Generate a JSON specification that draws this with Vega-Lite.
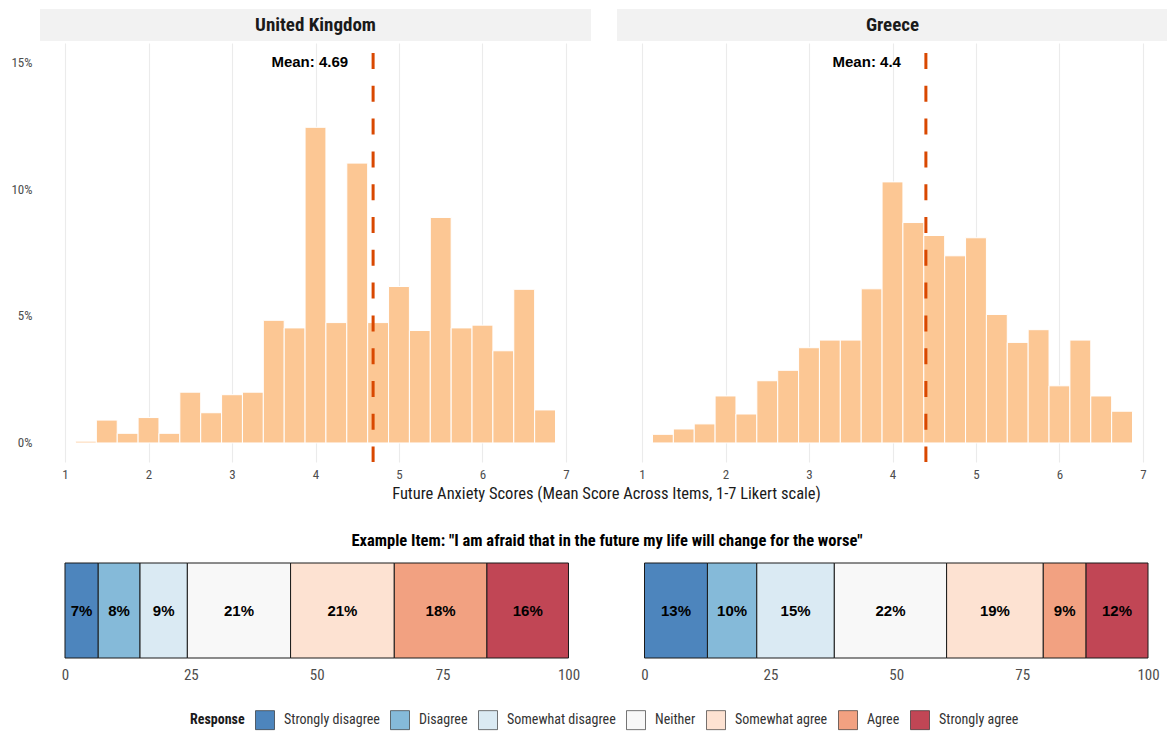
{
  "$schema": "https://vega.github.io/schema/vega-lite/v6.json",
  "padding": {"left": 10, "top": 9, "right": 0, "bottom": 0},
  "background": "white",
  "config": {
    "font": "Roboto Condensed, Liberation Sans Narrow, Arial Narrow, Roboto, sans-serif",
    "view": {"stroke": null},
    "axis": {"labelFont": "Roboto Condensed, Liberation Sans Narrow, Arial Narrow, Roboto, sans-serif"},
    "legend": {"labelFont": "Roboto Condensed, Liberation Sans Narrow, Arial Narrow, Roboto, sans-serif", "titleFont": "Roboto Condensed, Liberation Sans Narrow, Arial Narrow, Roboto, sans-serif"},
    "title": {"font": "Roboto Condensed, Liberation Sans Narrow, Arial Narrow, Roboto, sans-serif"}
  },
  "datasets": {
    "hist": [
      {"country": "United Kingdom", "bin_start": 1.125, "bin_end": 1.375, "pct": 0.07},
      {"country": "United Kingdom", "bin_start": 1.375, "bin_end": 1.625, "pct": 0.9},
      {"country": "United Kingdom", "bin_start": 1.625, "bin_end": 1.875, "pct": 0.38},
      {"country": "United Kingdom", "bin_start": 1.875, "bin_end": 2.125, "pct": 1.0},
      {"country": "United Kingdom", "bin_start": 2.125, "bin_end": 2.375, "pct": 0.38},
      {"country": "United Kingdom", "bin_start": 2.375, "bin_end": 2.625, "pct": 2.0},
      {"country": "United Kingdom", "bin_start": 2.625, "bin_end": 2.875, "pct": 1.19},
      {"country": "United Kingdom", "bin_start": 2.875, "bin_end": 3.125, "pct": 1.9},
      {"country": "United Kingdom", "bin_start": 3.125, "bin_end": 3.375, "pct": 2.0},
      {"country": "United Kingdom", "bin_start": 3.375, "bin_end": 3.625, "pct": 4.83},
      {"country": "United Kingdom", "bin_start": 3.625, "bin_end": 3.875, "pct": 4.53},
      {"country": "United Kingdom", "bin_start": 3.875, "bin_end": 4.125, "pct": 12.43},
      {"country": "United Kingdom", "bin_start": 4.125, "bin_end": 4.375, "pct": 4.74},
      {"country": "United Kingdom", "bin_start": 4.375, "bin_end": 4.625, "pct": 11.02},
      {"country": "United Kingdom", "bin_start": 4.625, "bin_end": 4.875, "pct": 4.74},
      {"country": "United Kingdom", "bin_start": 4.875, "bin_end": 5.125, "pct": 6.16},
      {"country": "United Kingdom", "bin_start": 5.125, "bin_end": 5.375, "pct": 4.43},
      {"country": "United Kingdom", "bin_start": 5.375, "bin_end": 5.625, "pct": 8.88},
      {"country": "United Kingdom", "bin_start": 5.625, "bin_end": 5.875, "pct": 4.53},
      {"country": "United Kingdom", "bin_start": 5.875, "bin_end": 6.125, "pct": 4.64},
      {"country": "United Kingdom", "bin_start": 6.125, "bin_end": 6.375, "pct": 3.63},
      {"country": "United Kingdom", "bin_start": 6.375, "bin_end": 6.625, "pct": 6.05},
      {"country": "United Kingdom", "bin_start": 6.625, "bin_end": 6.875, "pct": 1.3},
      {"country": "Greece", "bin_start": 1.125, "bin_end": 1.375, "pct": 0.34},
      {"country": "Greece", "bin_start": 1.375, "bin_end": 1.625, "pct": 0.55},
      {"country": "Greece", "bin_start": 1.625, "bin_end": 1.875, "pct": 0.75},
      {"country": "Greece", "bin_start": 1.875, "bin_end": 2.125, "pct": 1.85},
      {"country": "Greece", "bin_start": 2.125, "bin_end": 2.375, "pct": 1.14},
      {"country": "Greece", "bin_start": 2.375, "bin_end": 2.625, "pct": 2.45},
      {"country": "Greece", "bin_start": 2.625, "bin_end": 2.875, "pct": 2.86},
      {"country": "Greece", "bin_start": 2.875, "bin_end": 3.125, "pct": 3.75},
      {"country": "Greece", "bin_start": 3.125, "bin_end": 3.375, "pct": 4.05},
      {"country": "Greece", "bin_start": 3.375, "bin_end": 3.625, "pct": 4.05},
      {"country": "Greece", "bin_start": 3.625, "bin_end": 3.875, "pct": 6.07},
      {"country": "Greece", "bin_start": 3.875, "bin_end": 4.125, "pct": 10.28},
      {"country": "Greece", "bin_start": 4.125, "bin_end": 4.375, "pct": 8.68},
      {"country": "Greece", "bin_start": 4.375, "bin_end": 4.625, "pct": 8.17},
      {"country": "Greece", "bin_start": 4.625, "bin_end": 4.875, "pct": 7.37},
      {"country": "Greece", "bin_start": 4.875, "bin_end": 5.125, "pct": 8.08},
      {"country": "Greece", "bin_start": 5.125, "bin_end": 5.375, "pct": 5.06},
      {"country": "Greece", "bin_start": 5.375, "bin_end": 5.625, "pct": 3.96},
      {"country": "Greece", "bin_start": 5.625, "bin_end": 5.875, "pct": 4.46},
      {"country": "Greece", "bin_start": 5.875, "bin_end": 6.125, "pct": 2.25},
      {"country": "Greece", "bin_start": 6.125, "bin_end": 6.375, "pct": 4.05},
      {"country": "Greece", "bin_start": 6.375, "bin_end": 6.625, "pct": 1.85},
      {"country": "Greece", "bin_start": 6.625, "bin_end": 6.875, "pct": 1.25}
    ],
    "means": [
      {"country": "United Kingdom", "mean": 4.69, "label": "Mean: 4.69"},
      {"country": "Greece", "mean": 4.4, "label": "Mean: 4.4"}
    ],
    "resp": [
      {"country": "United Kingdom", "response": "Strongly disagree", "idx": 1, "pct": 6.6, "label": "7%"},
      {"country": "United Kingdom", "response": "Disagree", "idx": 2, "pct": 8.3, "label": "8%"},
      {"country": "United Kingdom", "response": "Somewhat disagree", "idx": 3, "pct": 9.4, "label": "9%"},
      {"country": "United Kingdom", "response": "Neither", "idx": 4, "pct": 20.5, "label": "21%"},
      {"country": "United Kingdom", "response": "Somewhat agree", "idx": 5, "pct": 20.6, "label": "21%"},
      {"country": "United Kingdom", "response": "Agree", "idx": 6, "pct": 18.4, "label": "18%"},
      {"country": "United Kingdom", "response": "Strongly agree", "idx": 7, "pct": 16.2, "label": "16%"},
      {"country": "Greece", "response": "Strongly disagree", "idx": 1, "pct": 12.5, "label": "13%"},
      {"country": "Greece", "response": "Disagree", "idx": 2, "pct": 9.8, "label": "10%"},
      {"country": "Greece", "response": "Somewhat disagree", "idx": 3, "pct": 15.4, "label": "15%"},
      {"country": "Greece", "response": "Neither", "idx": 4, "pct": 22.3, "label": "22%"},
      {"country": "Greece", "response": "Somewhat agree", "idx": 5, "pct": 19.2, "label": "19%"},
      {"country": "Greece", "response": "Agree", "idx": 6, "pct": 8.5, "label": "9%"},
      {"country": "Greece", "response": "Strongly agree", "idx": 7, "pct": 12.3, "label": "12%"}
    ]
  },
  "spacing": 30,
  "vconcat": [
    {
      "columns": 2,
      "spacing": {"row": 0, "column": 26},
      "title": {"text": "Future Anxiety Scores (Mean Score Across Items, 1-7 Likert scale)", "orient": "bottom", "anchor": "middle", "offset": 5, "fontSize": 16.5, "fontWeight": "normal", "color": "#1a1a1a", "dx": 17},
      "concat": [
        {
          "width": 551, "height": 32,
          "view": {"fill": "#f2f2f2", "stroke": null},
          "data": {"name": "means"},
          "transform": [{"filter": "datum.country === 'United Kingdom'"}],
          "mark": {"type": "text", "fontSize": 19, "fontWeight": "bold", "color": "#1a1a1a", "baseline": "middle"},
          "encoding": {"text": {"field": "country"}}
        },
        {
          "width": 551, "height": 32,
          "view": {"fill": "#f2f2f2", "stroke": null},
          "data": {"name": "means"},
          "transform": [{"filter": "datum.country === 'Greece'"}],
          "mark": {"type": "text", "fontSize": 19, "fontWeight": "bold", "color": "#1a1a1a", "baseline": "middle"},
          "encoding": {"text": {"field": "country"}}
        },
        {
          "width": 551, "height": 419,
          "layer": [
            {
              "data": {"name": "hist"},
              "transform": [{"filter": "datum.country === 'United Kingdom'"}],
              "mark": {"type": "bar", "color": "#fcc794", "stroke": "white", "strokeWidth": 1, "orient": "vertical"},
              "encoding": {
                "x": {"field": "bin_start", "type": "quantitative", "scale": {"domain": [0.7, 7.3], "nice": false, "zero": false, "padding": 0},
                  "axis": {"values": [1, 2, 3, 4, 5, 6, 7], "format": "d", "grid": true, "gridColor": "#ebebeb", "gridWidth": 1.1, "ticks": false, "domain": false, "labelColor": "#4d4d4d", "labelFontSize": 13, "labelPadding": 6, "title": null}},
                "x2": {"field": "bin_end"},
                "y": {"field": "pct", "type": "quantitative", "scale": {"domain": [-0.75, 15.75], "nice": false, "zero": false, "padding": 0},
                  "axis": {"values": [0, 5, 10, 15], "labelExpr": "datum.value + '%'", "grid": false, "ticks": false, "domain": false, "labelColor": "#4d4d4d", "labelFontSize": 13, "labelPadding": 8, "title": null}},
                "y2": {"datum": 0}
              }
            },
            {
              "data": {"name": "means"},
              "transform": [{"filter": "datum.country === 'United Kingdom'"}],
              "mark": {"type": "rule", "color": "#d94801", "strokeWidth": 3, "strokeDash": [16, 16.8], "strokeDashOffset": 22.8},
              "encoding": {"x": {"field": "mean", "type": "quantitative"}}
            },
            {
              "data": {"name": "means"},
              "transform": [{"filter": "datum.country === 'United Kingdom'"}],
              "mark": {"type": "text", "align": "right", "baseline": "middle", "dx": -25, "font": "Liberation Sans, Arial, sans-serif", "fontWeight": "bold", "fontSize": 15, "color": "black"},
              "encoding": {"x": {"field": "mean", "type": "quantitative"}, "y": {"datum": 15}, "text": {"field": "label"}}
            }
          ]
        },
        {
          "width": 551, "height": 419,
          "layer": [
            {
              "data": {"name": "hist"},
              "transform": [{"filter": "datum.country === 'Greece'"}],
              "mark": {"type": "bar", "color": "#fcc794", "stroke": "white", "strokeWidth": 1, "orient": "vertical"},
              "encoding": {
                "x": {"field": "bin_start", "type": "quantitative", "scale": {"domain": [0.7, 7.3], "nice": false, "zero": false, "padding": 0},
                  "axis": {"values": [1, 2, 3, 4, 5, 6, 7], "format": "d", "grid": true, "gridColor": "#ebebeb", "gridWidth": 1.1, "ticks": false, "domain": false, "labelColor": "#4d4d4d", "labelFontSize": 13, "labelPadding": 6, "title": null}},
                "x2": {"field": "bin_end"},
                "y": {"field": "pct", "type": "quantitative", "scale": {"domain": [-0.75, 15.75], "nice": false, "zero": false, "padding": 0}, "axis": null},
                "y2": {"datum": 0}
              }
            },
            {
              "data": {"name": "means"},
              "transform": [{"filter": "datum.country === 'Greece'"}],
              "mark": {"type": "rule", "color": "#d94801", "strokeWidth": 3, "strokeDash": [16, 16.8], "strokeDashOffset": 22.8},
              "encoding": {"x": {"field": "mean", "type": "quantitative"}}
            },
            {
              "data": {"name": "means"},
              "transform": [{"filter": "datum.country === 'Greece'"}],
              "mark": {"type": "text", "align": "right", "baseline": "middle", "dx": -25, "font": "Liberation Sans, Arial, sans-serif", "fontWeight": "bold", "fontSize": 15, "color": "black"},
              "encoding": {"x": {"field": "mean", "type": "quantitative"}, "y": {"datum": 15}, "text": {"field": "label"}}
            }
          ]
        }
      ]
    },
    {
      "spacing": 26,
      "title": {"text": "Example Item: \"I am afraid that in the future my life will change for the worse\"", "anchor": "middle", "fontSize": 16.5, "fontWeight": "bold", "color": "#000000", "offset": 13, "dx": 3},
      "hconcat": [
        {
          "width": 551, "height": 95,
          "data": {"name": "resp"},
          "transform": [{"filter": "datum.country === 'United Kingdom'"}],
          "layer": [
            {
              "mark": {"type": "bar", "stroke": "#1a1a1a", "strokeWidth": 1},
              "encoding": {
                "x": {"field": "pct", "type": "quantitative", "stack": "zero", "scale": {"domain": [-4.965, 104.47], "nice": false, "zero": false},
                  "axis": {"values": [0, 25, 50, 75, 100], "grid": false, "ticks": false, "domain": false, "labelColor": "#4d4d4d", "labelFontSize": 15, "labelPadding": 9, "title": null}},
                "y": {"field": "country", "type": "nominal", "scale": {"paddingInner": 0, "paddingOuter": 0}, "axis": null},
                "color": {"field": "response", "type": "nominal",
                  "scale": {"domain": ["Strongly disagree", "Disagree", "Somewhat disagree", "Neither", "Somewhat agree", "Agree", "Strongly agree"],
                            "range": ["#4d85bd", "#85bad9", "#daeaf3", "#f8f8f8", "#fde2d2", "#f2a181", "#c14655"]},
                  "legend": {"title": "Response", "orient": "none", "legendX": 150, "legendY": 701, "direction": "horizontal", "titleOrient": "left", "symbolType": "square", "symbolSize": 361, "symbolStrokeColor": "#333333", "symbolStrokeWidth": 0.6, "symbolOpacity": 1, "labelFontSize": 14, "labelColor": "#333333", "titleFontSize": 14, "titleFontWeight": "bold", "titleColor": "#1a1a1a", "labelOffset": 9, "columnPadding": 9, "titlePadding": 10, "padding": 0}},
                "order": {"field": "idx"}
              }
            },
            {
              "mark": {"type": "text", "baseline": "middle", "font": "Liberation Sans, Arial, sans-serif", "fontWeight": "bold", "fontSize": 15, "color": "black"},
              "encoding": {
                "x": {"field": "pct", "type": "quantitative", "stack": "zero", "bandPosition": 0.5},
                "y": {"field": "country", "type": "nominal"},
                "detail": {"field": "response"},
                "order": {"field": "idx"},
                "text": {"field": "label"}
              }
            }
          ]
        },
        {
          "width": 551, "height": 95,
          "data": {"name": "resp"},
          "transform": [{"filter": "datum.country === 'Greece'"}],
          "layer": [
            {
              "mark": {"type": "bar", "stroke": "#1a1a1a", "strokeWidth": 1},
              "encoding": {
                "x": {"field": "pct", "type": "quantitative", "stack": "zero", "scale": {"domain": [-5.462, 103.97], "nice": false, "zero": false},
                  "axis": {"values": [0, 25, 50, 75, 100], "grid": false, "ticks": false, "domain": false, "labelColor": "#4d4d4d", "labelFontSize": 15, "labelPadding": 9, "title": null}},
                "y": {"field": "country", "type": "nominal", "scale": {"paddingInner": 0, "paddingOuter": 0}, "axis": null},
                "color": {"field": "response", "type": "nominal"},
                "order": {"field": "idx"}
              }
            },
            {
              "mark": {"type": "text", "baseline": "middle", "font": "Liberation Sans, Arial, sans-serif", "fontWeight": "bold", "fontSize": 15, "color": "black"},
              "encoding": {
                "x": {"field": "pct", "type": "quantitative", "stack": "zero", "bandPosition": 0.5},
                "y": {"field": "country", "type": "nominal"},
                "detail": {"field": "response"},
                "order": {"field": "idx"},
                "text": {"field": "label"}
              }
            }
          ]
        }
      ]
    }
  ]
}
